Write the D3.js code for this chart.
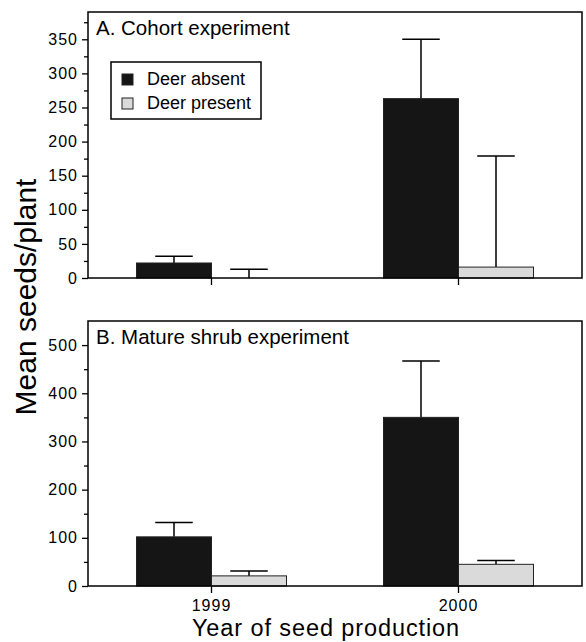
<!DOCTYPE html>
<html>
<head>
<script src="https://d3js.org/d3.v7.min.js"></script>
<style>
    body { margin: 0; background: #fff; }
    svg { font-family: "Liberation Sans", Arial, sans-serif; }
    .axis path { display: none; }
    .axis line { stroke: #000; stroke-width: 1.3; }
    .axis text { fill: #000; font-size: 16px; letter-spacing: 1px; }
    .frame { fill: none; stroke: #000; stroke-width: 1.5; }
    .err { stroke: #000; stroke-width: 1.5; fill: none; }
</style>
</head>
<body>
<svg width="586" height="642"></svg>
<script>
// values
var years = ["1999", "2000"];
var treatments = ["Deer absent", "Deer present"];

var cohortAbsentMean = [22, 263];
var cohortAbsentSE = [10, 87];
var cohortPresentMean = [0, 16];
var cohortPresentSE = [13, 163];

var shrubAbsentMean = [102, 350];
var shrubAbsentSE = [30, 117];
var shrubPresentMean = [21, 45];
var shrubPresentSE = [10, 8];

var cohortTicks = [0, 50, 100, 150, 200, 250, 300, 350];
var cohortMinor = [25, 75, 125, 175, 225, 275, 325, 375];
var shrubTicks = [0, 100, 200, 300, 400, 500];
var shrubMinor = [50, 150, 250, 350, 450];

var fills = {"Deer absent": "#151515", "Deer present": "#dadada"};

var svg = d3.select("svg");
var left = 88, right = 582;

var x = d3.scaleBand().domain(years).range([left, right]);
var xSub = d3.scaleBand().domain(treatments).range([-75, 75]);

function panel(opt) {
    var y = d3.scaleLinear().domain([0, opt.yMax]).range([opt.bottom, opt.top]);
    var g = svg.append("g");

    var rows = [];
    years.forEach(function (yr, i) {
        rows.push({year: yr, t: treatments[0], v: opt.absent[i], se: opt.absentSE[i]});
        rows.push({year: yr, t: treatments[1], v: opt.present[i], se: opt.presentSE[i]});
    });
    function cx(d) { return x(d.year) + x.bandwidth() / 2 + xSub(d.t); }

    // error bars (upward only)
    g.selectAll(".err").data(rows).enter().append("path")
        .attr("class", "err")
        .attr("d", function (d) {
            var m = cx(d) + xSub.bandwidth() / 2, w = xSub.bandwidth() / 4;
            return "M" + m + "," + y(d.v) + "V" + y(d.v + d.se) +
                "M" + (m - w) + "," + y(d.v + d.se) + "H" + (m + w);
        });

    g.selectAll(".bar").data(rows).enter().append("rect")
        .attr("class", "bar")
        .attr("x", cx)
        .attr("width", xSub.bandwidth())
        .attr("y", function (d) { return y(d.v); })
        .attr("height", function (d) { return y(0) - y(d.v); })
        .attr("fill", function (d) { return fills[d.t]; })
        .attr("stroke", "#222")
        .attr("stroke-width", 1);

    g.append("g").attr("class", "axis")
        .attr("transform", "translate(" + left + ",0)")
        .call(d3.axisLeft(y).tickValues(opt.ticks).tickSize(6).tickPadding(4).tickFormat(d3.format("d")));
    g.append("g").attr("class", "axis")
        .attr("transform", "translate(" + left + ",0)")
        .call(d3.axisLeft(y).tickValues(opt.minor).tickSize(4).tickFormat(""));

    g.append("g").attr("class", "axis")
        .attr("transform", "translate(0," + opt.bottom + ")")
        .call(d3.axisBottom(x).tickSize(7).tickPadding(7).tickFormat(opt.xLabels ? null : ""));

    g.append("rect").attr("class", "frame")
        .attr("x", left).attr("y", opt.top)
        .attr("width", right - left).attr("height", opt.bottom - opt.top);

    g.append("text")
        .attr("x", left + 8).attr("y", opt.top + 23)
        .style("font-size", "20.5px")
        .text(opt.title);

    return y;
}

panel({
    top: 12, bottom: 278, yMax: 390,
    ticks: cohortTicks, minor: cohortMinor,
    absent: cohortAbsentMean, absentSE: cohortAbsentSE,
    present: cohortPresentMean, presentSE: cohortPresentSE,
    title: "A. Cohort experiment", xLabels: false
});

panel({
    top: 321, bottom: 586, yMax: 550,
    ticks: shrubTicks, minor: shrubMinor,
    absent: shrubAbsentMean, absentSE: shrubAbsentSE,
    present: shrubPresentMean, presentSE: shrubPresentSE,
    title: "B. Mature shrub experiment", xLabels: true
});

// legend
var legend = svg.append("g").attr("transform", "translate(111,62)");
legend.append("rect").attr("class", "frame")
    .attr("width", 150).attr("height", 57).attr("stroke-width", 1.2);
var item = legend.selectAll(".item").data(treatments).enter().append("g")
    .attr("transform", function (d, i) { return "translate(11," + (12 + i * 24) + ")"; });
item.append("rect")
    .attr("width", 11).attr("height", 11)
    .attr("fill", function (d) { return fills[d]; })
    .attr("stroke", "#222");
item.append("text")
    .attr("x", 25).attr("y", 11)
    .style("font-size", "18px")
    .text(function (d) { return d; });

svg.append("text")
    .attr("x", 326).attr("y", 636)
    .attr("text-anchor", "middle")
    .style("font-size", "23.5px")
    .style("letter-spacing", "0.9px")
    .text("Year of seed production");

svg.append("text")
    .attr("transform", "translate(36,297) rotate(-90)")
    .attr("text-anchor", "middle")
    .style("font-size", "30px")
    .text("Mean seeds/plant");
</script>
</body>
</html>
